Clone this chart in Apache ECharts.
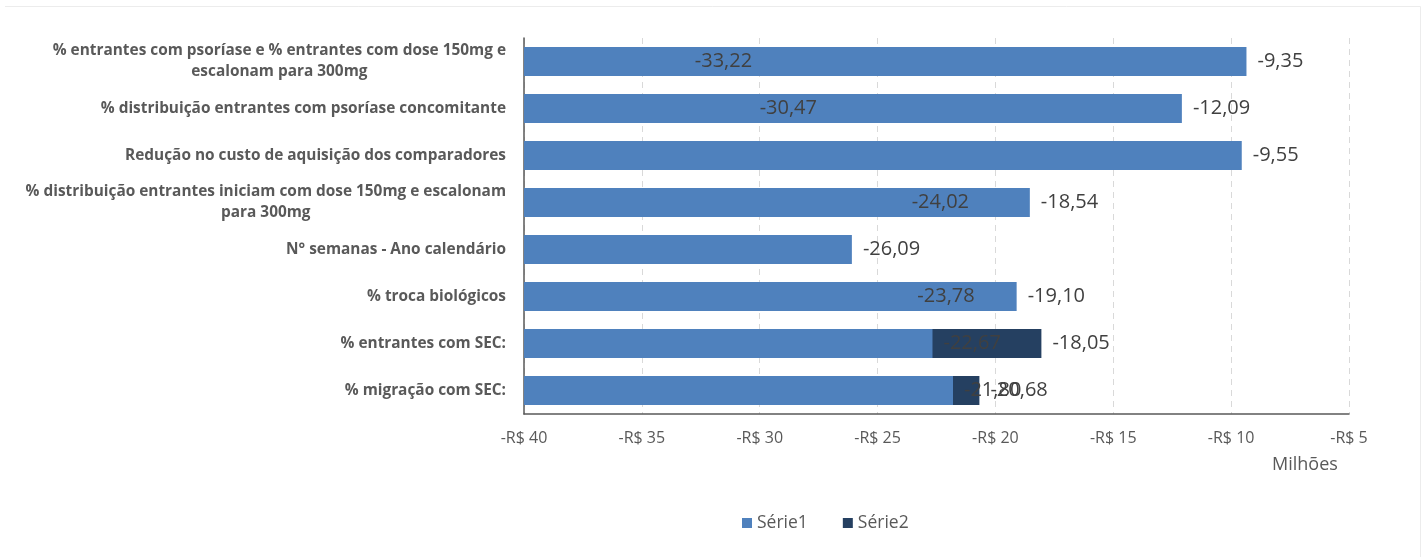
<!DOCTYPE html>
<html>
<head>
<meta charset="utf-8">
<script src="https://cdn.jsdelivr.net/npm/echarts@6/dist/echarts.min.js"></script>
<style>
  html, body { margin: 0; padding: 0; background: #fff; }
  #chart { width: 1426px; height: 557px; }
</style>
</head>
<body>
<div id="chart"></div>
<script>
  // categorias de cima para baixo
  var categories = [
    '% entrantes com psoríase e % entrantes com dose 150mg e\nescalonam para 300mg',
    '% distribuição entrantes com psoríase concomitante',
    'Redução no custo de aquisição dos comparadores',
    '% distribuição entrantes iniciam com dose 150mg e escalonam\npara 300mg',
    'N° semanas - Ano calendário',
    '% troca biológicos',
    '% entrantes com SEC:',
    '% migração com SEC:'
  ]
  // valores em milhões de R$
  var serie1 = [-9.35, -12.09, -9.55, -18.54, -26.09, -19.10, -22.67, -21.80]
  var serie2 = [-33.22, -30.47, null, -24.02, null, -23.78, -18.05, -20.68]
  var axisMin = -40
  var axisMax = -5
  var axisStep = 5

  // barras partem do mínimo do eixo (como no Excel), por isso desloca
  function shift(arr) {
    return arr.map(function (v) { return v == null ? null : v - axisMin })
  }
  function fmt(v) {
    return v.toFixed(2).replace('.', ',')
  }
  function labelOf(arr) {
    return function (p) { return arr[p.dataIndex] == null ? '' : fmt(arr[p.dataIndex]) }
  }

  var font = 'Open Sans'
  var chart = echarts.init(document.getElementById('chart'))
  var option = {
    backgroundColor: '#fff',
    animation: false,
    grid: { left: 524, right: 77, top: 38, bottom: 143 },
    legend: {
      data: ['Série1', 'Série2'],
      left: 737,
      top: 509,
      icon: 'rect',
      itemWidth: 10,
      itemHeight: 10,
      itemGap: 35,
      textStyle: { color: '#595959', fontSize: 17.5, fontFamily: font }
    },
    xAxis: {
      type: 'value',
      min: 0,
      max: axisMax - axisMin,
      interval: axisStep,
      axisLine: { show: true, lineStyle: { color: '#595959', width: 1.5 } },
      axisTick: { show: false },
      splitLine: { show: true, lineStyle: { color: '#d9d9d9', type: [6, 5] } },
      axisLabel: {
        color: '#595959',
        fontSize: 16,
        fontFamily: font,
        margin: 16,
        formatter: function (v) { return '-R$ ' + Math.abs(v + axisMin) }
      }
    },
    yAxis: {
      type: 'category',
      inverse: true,
      data: categories,
      axisLine: { show: true, lineStyle: { color: '#595959', width: 1.5 } },
      axisTick: { show: false },
      axisLabel: {
        margin: 18,
        formatter: function (v) {
          return v.split('\n').map(function (s) { return '{c|' + s + '}' }).join('\n')
        },
        rich: {
          c: {
            align: 'center',
            color: '#595959',
            fontSize: 15.4,
            fontWeight: 'bold',
            fontFamily: font,
            lineHeight: 21
          }
        }
      }
    },
    graphic: [
      {
        // borda clara do quadro (só topo e direita aparecem)
        type: 'polyline',
        silent: true,
        shape: { points: [[5, 6.5], [1420.5, 6.5], [1420.5, 557]] },
        style: { fill: null, stroke: '#ececec', lineWidth: 1 }
      },
      {
        type: 'text',
        left: 1272,
        top: 456,
        style: { text: 'Milhões', fill: '#595959', fontSize: 18, fontFamily: font }
      }
    ],
    series: [
      {
        name: 'Série2',
        type: 'bar',
        data: shift(serie2),
        barWidth: 29,
        barGap: '-100%',
        itemStyle: { color: '#254061' },
        label: {
          show: true,
          position: 'right',
          distance: 11,
          color: '#404040',
          fontSize: 20,
          fontFamily: font,
          formatter: labelOf(serie2)
        }
      },
      {
        name: 'Série1',
        type: 'bar',
        data: shift(serie1),
        barWidth: 29,
        barGap: '-100%',
        itemStyle: { color: '#4f81bd' },
        label: {
          show: true,
          position: 'right',
          distance: 11,
          color: '#404040',
          fontSize: 20,
          fontFamily: font,
          formatter: labelOf(serie1)
        }
      }
    ]
  }
  chart.setOption(option)
</script>
</body>
</html>
